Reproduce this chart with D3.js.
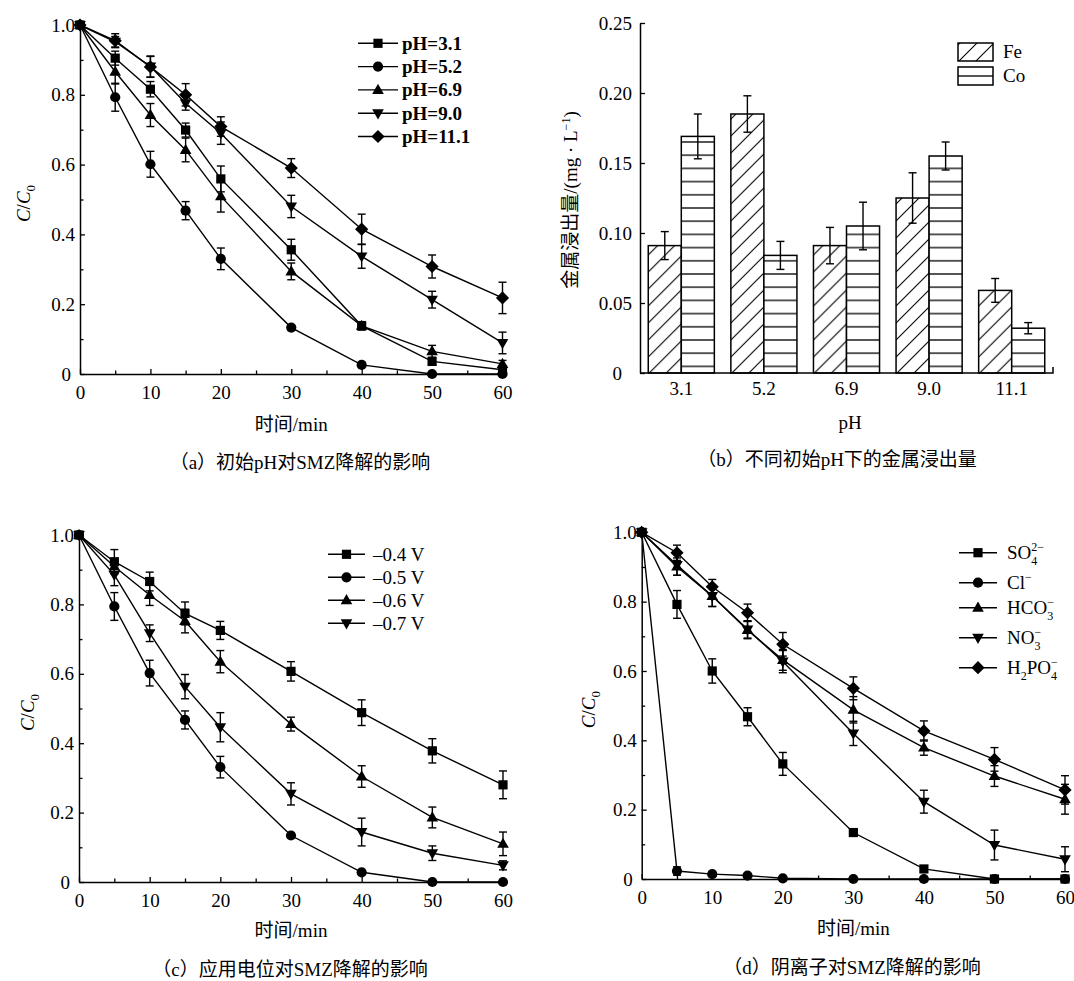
<!DOCTYPE html>
<html>
<head>
<meta charset="utf-8">
<script src="https://cdn.jsdelivr.net/npm/d3@7"></script>
<style>
  html, body { margin: 0; padding: 0; background: #fff; }
  svg text { font-family: "Liberation Serif", "Times New Roman", "Noto Sans CJK SC", serif; fill: #000; }
</style>
</head>
<body>
<svg id="chart" width="1074" height="981"></svg>
<script>
// ---------------- DATA ----------------
const times = [0, 5, 10, 15, 20, 30, 40, 50, 60];
const xTicks = [0, 10, 20, 30, 40, 50, 60];
const yTicks = [0, 0.2, 0.4, 0.6, 0.8, 1.0];

// (a) initial pH
const phNames = ["pH=3.1", "pH=5.2", "pH=6.9", "pH=9.0", "pH=11.1"];
const ph31 = [1, 0.905, 0.816, 0.699, 0.559, 0.356, 0.138, 0.036, 0.012];
const ph31Err = [0, 0.02, 0.022, 0.02, 0.037, 0.03, 0.01, 0.01, 0.005];
const ph52 = [1, 0.793, 0.601, 0.468, 0.330, 0.133, 0.026, 0, 0];
const ph52Err = [0, 0.04, 0.037, 0.026, 0.031, 0.007, 0.004, 0, 0];
const ph69 = [1, 0.866, 0.742, 0.642, 0.509, 0.294, 0.138, 0.065, 0.029];
const ph69Err = [0, 0.035, 0.033, 0.034, 0.045, 0.024, 0.012, 0.017, 0.01];
const ph90 = [1, 0.952, 0.881, 0.776, 0.690, 0.480, 0.337, 0.213, 0.089];
const ph90Err = [0, 0.015, 0.03, 0.02, 0.032, 0.032, 0.034, 0.024, 0.031];
const ph111 = [1, 0.955, 0.880, 0.800, 0.709, 0.590, 0.415, 0.308, 0.218];
const ph111Err = [0, 0.02, 0.03, 0.032, 0.028, 0.027, 0.043, 0.033, 0.045];

// (b) metal leaching
const phCats = ["3.1", "5.2", "6.9", "9.0", "11.1"];
const metals = ["Fe", "Co"];
const feVals = [0.091, 0.185, 0.091, 0.125, 0.059];
const feErr = [0.010, 0.013, 0.013, 0.018, 0.0085];
const coVals = [0.169, 0.084, 0.105, 0.155, 0.032];
const coErr = [0.016, 0.010, 0.017, 0.010, 0.004];
const barTicks = [0, 0.05, 0.10, 0.15, 0.20, 0.25];

// (c) applied potential
const vNames = ["\u20130.4 V", "\u20130.5 V", "\u20130.6 V", "\u20130.7 V"];
const v04 = [1, 0.923, 0.866, 0.774, 0.725, 0.607, 0.488, 0.378, 0.280];
const v04Err = [0, 0.035, 0.027, 0.033, 0.026, 0.028, 0.037, 0.035, 0.04];
const v05 = [1, 0.794, 0.602, 0.467, 0.331, 0.134, 0.028, 0, 0];
const v05Err = [0, 0.04, 0.037, 0.026, 0.031, 0.007, 0.004, 0, 0];
const v06 = [1, 0.909, 0.827, 0.752, 0.635, 0.455, 0.304, 0.186, 0.110];
const v06Err = [0, 0.02, 0.03, 0.034, 0.032, 0.02, 0.031, 0.03, 0.034];
const v07 = [1, 0.885, 0.717, 0.563, 0.446, 0.254, 0.144, 0.083, 0.048];
const v07Err = [0, 0.031, 0.024, 0.035, 0.042, 0.032, 0.04, 0.021, 0.013];

// (d) anions
const so4 = [1, 0.792, 0.600, 0.468, 0.332, 0.134, 0.029, 0, 0];
const so4Err = [0, 0.04, 0.035, 0.026, 0.033, 0.008, 0.005, 0, 0];
const cl = [1, 0.023, 0.014, 0.010, 0.002, 0, 0, 0, 0];
const clErr = [0, 0.012, 0.006, 0.005, 0, 0, 0, 0, 0];
const hco3 = [1, 0.901, 0.816, 0.718, 0.632, 0.488, 0.379, 0.297, 0.230];
const hco3Err = [0, 0.025, 0.03, 0.025, 0.03, 0.038, 0.022, 0.03, 0.043];
const no3 = [1, 0.906, 0.816, 0.720, 0.627, 0.420, 0.223, 0.098, 0.057];
const no3Err = [0, 0.03, 0.03, 0.025, 0.032, 0.035, 0.033, 0.043, 0.036];
const h2po4 = [1, 0.941, 0.843, 0.768, 0.677, 0.550, 0.427, 0.345, 0.257];
const h2po4Err = [0, 0.022, 0.021, 0.025, 0.034, 0.033, 0.029, 0.034, 0.041];

const captions = [
  "（a）初始pH对SMZ降解的影响",
  "（b）不同初始pH下的金属浸出量",
  "（c）应用电位对SMZ降解的影响",
  "（d）阴离子对SMZ降解的影响"
];

// ---------------- HELPERS ----------------
const svg = d3.select("#chart");
const FS = 19;
const CAP = 19;

const shapes = {
  square: "M-4.6,-4.6H4.6V4.6H-4.6Z",
  circle: d3.symbol(d3.symbolCircle, 82)(),
  up: "M0,-6.2L5.8,4L-5.8,4Z",
  down: "M0,6.2L5.8,-4L-5.8,-4Z",
  diamond: "M0,-6.6L6.6,0L0,6.6L-6.6,0Z"
};

function styleAxis(g) {
  g.select(".domain").attr("stroke", "#000").attr("stroke-width", 1.5);
  g.selectAll(".tick line").attr("stroke", "#000").attr("stroke-width", 1.3);
  g.selectAll(".tick text").style("font-size", FS + "px").attr("fill", "#000");
}

function ylabelCC0(g, x, y) {
  const t = g.append("text")
    .attr("transform", `translate(${x},${y}) rotate(-90)`)
    .attr("text-anchor", "middle")
    .style("font-size", FS + "px");
  t.append("tspan").style("font-style", "italic").text("C");
  t.append("tspan").text("/");
  t.append("tspan").style("font-style", "italic").text("C");
  t.append("tspan").attr("dy", 5).style("font-size", "13px").text("0");
}

function linePanel(cfg) {
  const g = svg.append("g");
  const x = d3.scaleLinear().domain([0, 60]).range([cfg.x0, cfg.x1]);
  const y = d3.scaleLinear().domain([0, 1]).range([cfg.y0, cfg.y1]);

  // minor ticks
  g.append("g").attr("transform", `translate(0,${cfg.y0})`)
    .call(d3.axisBottom(x).tickValues([5, 15, 25, 35, 45, 55]).tickSizeInner(-3.5).tickSizeOuter(0).tickFormat(""))
    .call(a => { a.select(".domain").remove(); a.selectAll("line").attr("stroke", "#000").attr("stroke-width", 1.3); });
  g.append("g").attr("transform", `translate(${cfg.x0},0)`)
    .call(d3.axisLeft(y).tickValues([0.1, 0.3, 0.5, 0.7, 0.9]).tickSizeInner(-3.5).tickSizeOuter(0).tickFormat(""))
    .call(a => { a.select(".domain").remove(); a.selectAll("line").attr("stroke", "#000").attr("stroke-width", 1.3); });

  // major axes
  const xa = g.append("g").attr("transform", `translate(0,${cfg.y0})`)
    .call(d3.axisBottom(x).tickValues(xTicks).tickSizeInner(-5).tickSizeOuter(0).tickPadding(12).tickFormat(d3.format("d")));
  styleAxis(xa);
  const ya = g.append("g").attr("transform", `translate(${cfg.x0},0)`)
    .call(d3.axisLeft(y).tickValues(yTicks).tickSizeInner(-5).tickSizeOuter(0).tickPadding(5)
      .tickFormat(d => d === 0 ? "0" : d3.format(".1f")(d)));
  styleAxis(ya);
  ya.selectAll(".tick text").filter(d => d === 0).attr("dx", -4);

  const line = d3.line().x((d, i) => x(times[i])).y(d => y(d));

  cfg.series.forEach(s => {
    const sg = g.append("g");
    sg.append("path").datum(s.values).attr("d", line)
      .attr("fill", "none").attr("stroke", "#000").attr("stroke-width", 1.4);
    const eb = sg.selectAll(".eb").data(s.values.map((v, i) => ({ t: times[i], v, e: s.errs[i] })).filter(d => d.e > 0))
      .enter().append("g");
    eb.append("line").attr("x1", d => x(d.t)).attr("x2", d => x(d.t))
      .attr("y1", d => y(d.v - d.e)).attr("y2", d => y(d.v + d.e));
    eb.append("line").attr("x1", d => x(d.t) - 4).attr("x2", d => x(d.t) + 4)
      .attr("y1", d => y(d.v + d.e)).attr("y2", d => y(d.v + d.e));
    eb.append("line").attr("x1", d => x(d.t) - 4).attr("x2", d => x(d.t) + 4)
      .attr("y1", d => y(d.v - d.e)).attr("y2", d => y(d.v - d.e));
    eb.selectAll("line").attr("stroke", "#000").attr("stroke-width", 1.4);
    sg.selectAll(".mk").data(s.values).enter().append("path")
      .attr("d", shapes[s.shape])
      .attr("transform", (d, i) => `translate(${x(times[i])},${y(d)})`)
      .attr("fill", "#000");
  });

  // axis labels
  g.append("text").attr("x", (cfg.x0 + cfg.x1) / 2).attr("y", cfg.xlabY)
    .attr("text-anchor", "middle").style("font-size", FS + "px").text("时间/min");
  ylabelCC0(g, cfg.ylabX, (cfg.y0 + cfg.y1) / 2 + 4);
  g.append("text").attr("x", cfg.capX).attr("y", cfg.capY)
    .attr("text-anchor", "middle").style("font-size", CAP + "px").text(cfg.caption);

  // legend
  const lg = g.append("g");
  cfg.series.forEach((s, i) => {
    const ry = cfg.legRows[i];
    lg.append("line").attr("x1", cfg.legX0).attr("x2", cfg.legX1).attr("y1", ry).attr("y2", ry)
      .attr("stroke", "#000").attr("stroke-width", 1.4);
    lg.append("path").attr("d", shapes[s.shape])
      .attr("transform", `translate(${(cfg.legX0 + cfg.legX1) / 2},${ry})`).attr("fill", "#000");
    const t = lg.append("text").attr("x", cfg.legTx).attr("y", ry + 6.5)
      .style("font-size", FS + "px").style("font-weight", cfg.legBold ? "bold" : "normal");
    if (s.label) s.label(t); else t.text(s.name);
  });
  return g;
}

// ---------------- PANEL (a) ----------------
const shapeOrder = ["square", "circle", "up", "down", "diamond"];
const phData = [ph31, ph52, ph69, ph90, ph111];
const phErrs = [ph31Err, ph52Err, ph69Err, ph90Err, ph111Err];
linePanel({
  x0: 80, x1: 502.5, y0: 374, y1: 25,
  series: phNames.map((n, i) => ({ name: n, values: phData[i], errs: phErrs[i], shape: shapeOrder[i] })),
  xlabY: 431, ylabX: 30, capX: 300, capY: 469, caption: captions[0],
  legRows: [43.3, 66.6, 89.9, 113.2, 136.5], legX0: 358, legX1: 398, legTx: 402, legBold: true
});

// ---------------- PANEL (c) ----------------
const vData = [v04, v05, v06, v07];
const vErrs = [v04Err, v05Err, v06Err, v07Err];
linePanel({
  x0: 79, x1: 503, y0: 882, y1: 535,
  series: vNames.map((n, i) => ({ name: n, values: vData[i], errs: vErrs[i], shape: shapeOrder[i] })),
  xlabY: 937, ylabX: 34, capX: 290, capY: 976, caption: captions[2],
  legRows: [554.3, 577.3, 600.3, 623.3], legX0: 328, legX1: 365, legTx: 373, legBold: false
});

// ---------------- PANEL (d) ----------------
function subsup(t, parts) {
  let shift = 0;
  parts.forEach(([txt, kind]) => {
    const sp = t.append("tspan").text(txt);
    let target = 0;
    if (kind === "sub") { target = 6; sp.style("font-size", "12px"); }
    if (kind === "sup" || kind === "supover") { target = -8; sp.style("font-size", "12px"); }
    if (kind === "supover") sp.attr("dx", -6);
    sp.attr("dy", target - shift);
    shift = target;
  });
}
const anionNames = ["SO42-", "Cl-", "HCO3-", "NO3-", "H2PO4-"];
const anionLabels = [
  t => subsup(t, [["SO", "n"], ["4", "sub"], ["2\u2212", "supover"]]),
  t => subsup(t, [["Cl", "n"], ["\u2212", "sup"]]),
  t => subsup(t, [["HCO", "n"], ["3", "sub"], ["\u2212", "supover"]]),
  t => subsup(t, [["NO", "n"], ["3", "sub"], ["\u2212", "supover"]]),
  t => subsup(t, [["H", "n"], ["2", "sub"], ["PO", "n"], ["4", "sub"], ["\u2212", "supover"]])
];
const anData = [so4, cl, hco3, no3, h2po4];
const anErrs = [so4Err, clErr, hco3Err, no3Err, h2po4Err];
linePanel({
  x0: 641.7, x1: 1065, y0: 879, y1: 532.3,
  series: anionNames.map((n, i) => ({ name: n, values: anData[i], errs: anErrs[i], shape: shapeOrder[i], label: anionLabels[i] })),
  xlabY: 935, ylabX: 595, capX: 852, capY: 974, caption: captions[3],
  legRows: [552.7, 582.7, 607.7, 637.7, 667.7], legX0: 959, legX1: 997, legTx: 1007, legBold: false
});

// ---------------- PANEL (b) ----------------
(function () {
  const g = svg.append("g");
  const defs = svg.append("defs");
  defs.append("pattern").attr("id", "diag").attr("patternUnits", "userSpaceOnUse")
    .attr("width", 17).attr("height", 17)
    .append("path").attr("d", "M0,17L17,0M-4,4L4,-4M13,21L21,13")
    .attr("stroke", "#000").attr("stroke-width", 1.1);
  defs.append("pattern").attr("id", "horiz").attr("patternUnits", "userSpaceOnUse")
    .attr("width", 10).attr("height", 13.2).attr("y", 373)
    .append("line").attr("x1", 0).attr("x2", 10).attr("y1", 6.6).attr("y2", 6.6)
    .attr("stroke", "#000").attr("stroke-width", 1.3);

  const X0 = 640, X1 = 1053, Y0 = 373, Y1 = 23;
  const x = d3.scaleBand().domain(phCats).range([X0, X1]).paddingInner(0.2).paddingOuter(0.1);
  const x1 = d3.scaleBand().domain(metals).range([0, x.bandwidth()]).padding(0);
  const y = d3.scaleLinear().domain([0, 0.25]).range([Y0, Y1]);

  const rows = phCats.map((c, i) => ({ c, vals: [
    { m: "Fe", v: feVals[i], e: feErr[i], fill: "url(#diag)" },
    { m: "Co", v: coVals[i], e: coErr[i], fill: "url(#horiz)" }] }));

  const grp = g.selectAll(".grp").data(rows).enter().append("g")
    .attr("transform", d => `translate(${x(d.c)},0)`);
  const bar = grp.selectAll(".b").data(d => d.vals).enter().append("g");
  bar.append("rect").attr("x", d => x1(d.m)).attr("width", x1.bandwidth())
    .attr("y", d => y(d.v)).attr("height", d => Y0 - y(d.v)).attr("fill", "#fff");
  bar.append("rect").attr("x", d => x1(d.m)).attr("width", x1.bandwidth())
    .attr("y", d => y(d.v)).attr("height", d => Y0 - y(d.v))
    .attr("fill", d => d.fill).attr("stroke", "#000").attr("stroke-width", 1.5);
  const cx = d => x1(d.m) + x1.bandwidth() / 2;
  bar.append("line").attr("x1", cx).attr("x2", cx).attr("y1", d => y(d.v - d.e)).attr("y2", d => y(d.v + d.e));
  bar.append("line").attr("x1", d => cx(d) - 4).attr("x2", d => cx(d) + 4).attr("y1", d => y(d.v + d.e)).attr("y2", d => y(d.v + d.e));
  bar.append("line").attr("x1", d => cx(d) - 4).attr("x2", d => cx(d) + 4).attr("y1", d => y(d.v - d.e)).attr("y2", d => y(d.v - d.e));
  bar.selectAll("line").attr("stroke", "#000").attr("stroke-width", 1.4);

  // axes
  const ya = g.append("g").attr("transform", `translate(${X0},0)`)
    .call(d3.axisLeft(y).tickValues(barTicks).tickSizeInner(-5).tickSizeOuter(0).tickPadding(8)
      .tickFormat(d => d === 0 ? "0" : d3.format(".2f")(d)));
  styleAxis(ya);
  ya.selectAll(".tick text").filter(d => d === 0).attr("dx", -10);
  const xa = g.append("g").attr("transform", `translate(0,${Y0})`)
    .call(d3.axisBottom(x).tickSize(0).tickPadding(9));
  styleAxis(xa);
  xa.select(".domain").attr("d", `M${X0},0H${X1}V-6`);

  g.append("text").attr("x", 850).attr("y", 429).attr("text-anchor", "middle")
    .style("font-size", FS + "px").text("pH");
  const yl = g.append("text").attr("transform", `translate(577,200) rotate(-90)`)
    .attr("text-anchor", "middle").style("font-size", FS + "px");
  yl.append("tspan").text("金属浸出量/(mg · L");
  yl.append("tspan").attr("dy", -7).style("font-size", "12px").text("\u22121");
  yl.append("tspan").attr("dy", 7).text(")");
  g.append("text").attr("x", 837).attr("y", 466).attr("text-anchor", "middle")
    .style("font-size", CAP + "px").text(captions[1]);

  // legend
  const lg = g.append("g");
  const legFill = ["url(#diag)", "url(#horiz)"];
  metals.forEach((m, i) => {
    const ry = 43 + i * 24;
    lg.append("rect").attr("x", 958).attr("y", ry).attr("width", 35).attr("height", 18)
      .attr("fill", legFill[i]).attr("stroke", "#000").attr("stroke-width", 1.5);
    lg.append("text").attr("x", 1003).attr("y", ry + 15).style("font-size", FS + "px").text(m);
  });
})();
</script>
</body>
</html>
